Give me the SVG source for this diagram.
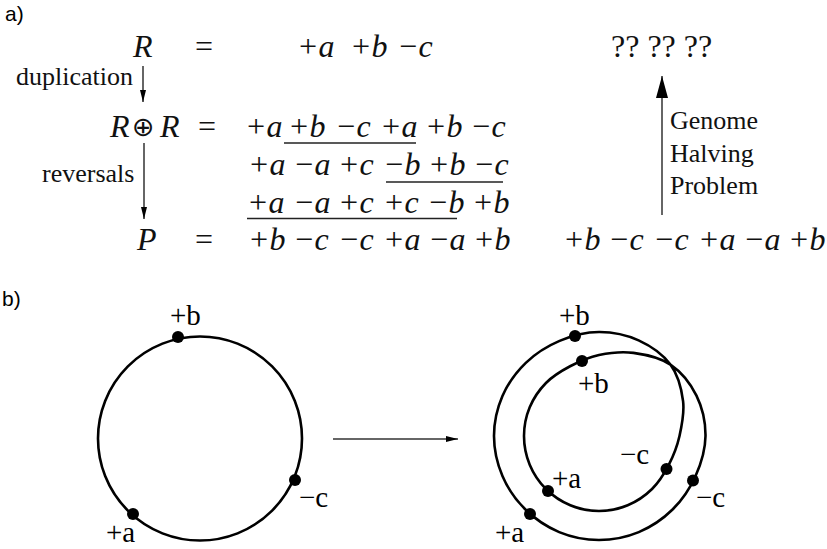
<svg xmlns="http://www.w3.org/2000/svg" width="827" height="549" viewBox="0 0 827 549">
<style>
.m{font-family:"Liberation Serif","Times New Roman",serif;font-size:32px;font-style:italic;fill:#111}
.u{font-family:"Liberation Serif","Times New Roman",serif;font-size:32px;fill:#111}
.l{font-family:"Liberation Serif","Times New Roman",serif;font-size:26px;fill:#111}
.c{font-family:"Liberation Serif","Times New Roman",serif;font-size:29px;fill:#000}
.s{font-family:"Liberation Sans",Arial,sans-serif;font-size:21px;fill:#000}
.ar{stroke:#333;stroke-width:1.5;fill:none}
.ul{stroke:#222;stroke-width:1.4}
.ring{stroke:#000;stroke-width:2.6;fill:none}
.dot{fill:#000}
</style>
<defs>
<marker id="hs" viewBox="0 0 12 6" refX="12" refY="3" markerWidth="12" markerHeight="6" markerUnits="userSpaceOnUse" orient="auto"><path d="M0,0 L12,3 L0,6 Z" fill="#000"/></marker>
<marker id="hb" viewBox="0 0 22 12" refX="22" refY="6" markerWidth="22" markerHeight="12" markerUnits="userSpaceOnUse" orient="auto"><path d="M0,0 L22,6 L0,12 Z" fill="#000"/></marker>
</defs>

<g id="labels-panels">
<text class="s" x="5" y="21">a)</text>
<text class="s" x="2" y="306">b)</text>
</g>

<g id="row-R">
<text class="m" x="133" y="57">R</text>
<text class="u" x="195" y="57">=</text>
<text class="m" x="297" y="57">+a</text>
<text class="m" x="350" y="57">+b</text>
<text class="m" x="397" y="57">−c</text>
</g>

<g id="row-RR">
<text class="m" x="110" y="137">R</text>
<text x="132" y="136" style="font-family:'DejaVu Sans',sans-serif;font-size:27px;fill:#111">⊕</text>
<text class="m" x="160" y="137">R</text>
<text class="u" x="198" y="137">=</text>
<text class="m" x="245" y="137">+a</text>
<text class="m" x="288" y="137">+b</text>
<text class="m" x="335" y="137">−c</text>
<text class="m" x="380" y="137">+a</text>
<text class="m" x="425" y="137">+b</text>
<text class="m" x="470" y="137">−c</text>
</g>

<g id="row-2">
<text class="m" x="248" y="175">+a</text>
<text class="m" x="293" y="175">−a</text>
<text class="m" x="338" y="175">+c</text>
<text class="m" x="383" y="175">−b</text>
<text class="m" x="428" y="175">+b</text>
<text class="m" x="473" y="175">−c</text>
</g>

<g id="row-3">
<text class="m" x="247" y="213">+a</text>
<text class="m" x="293" y="213">−a</text>
<text class="m" x="338" y="213">+c</text>
<text class="m" x="383" y="213">+c</text>
<text class="m" x="427" y="213">−b</text>
<text class="m" x="472" y="213">+b</text>
</g>

<g id="row-P">
<text class="m" x="137" y="250">P</text>
<text class="u" x="195" y="250">=</text>
<text class="m" x="248" y="250">+b</text>
<text class="m" x="293" y="250">−c</text>
<text class="m" x="338" y="250">−c</text>
<text class="m" x="383" y="250">+a</text>
<text class="m" x="428" y="250">−a</text>
<text class="m" x="473" y="250">+b</text>
</g>

<g id="row-Pright">
<text class="m" x="563" y="250">+b</text>
<text class="m" x="608" y="250">−c</text>
<text class="m" x="653" y="250">−c</text>
<text class="m" x="698" y="250">+a</text>
<text class="m" x="743" y="250">−a</text>
<text class="m" x="788" y="250">+b</text>
</g>

<g id="unknown">
<text class="u" x="611" y="57">?? ?? ??</text>
</g>

<g id="underlines">
<line class="ul" x1="284" y1="143" x2="416" y2="143"/>
<line class="ul" x1="386" y1="182" x2="503" y2="182"/>
<line class="ul" x1="247" y1="218.5" x2="457" y2="218.5"/>
</g>

<g id="arrow-labels">
<text class="l" x="16" y="85">duplication</text>
<text class="l" x="42" y="182">reversals</text>
<text class="l" x="670" y="129">Genome</text>
<text class="l" x="670" y="161.5">Halving</text>
<text class="l" x="670" y="194">Problem</text>
</g>

<g id="connectors">
<line class="ar" x1="143" y1="66" x2="143" y2="102" marker-end="url(#hs)"/>
<line class="ar" x1="144" y1="143" x2="144" y2="219" marker-end="url(#hs)"/>
<line class="ar" x1="662" y1="215" x2="662" y2="76" marker-end="url(#hb)"/>
<line class="ar" x1="333" y1="439" x2="458" y2="439" marker-end="url(#hs)"/>
</g>

<g id="genome-R">
<circle class="ring" cx="200" cy="438.5" r="102"/>
<circle class="dot" cx="178" cy="337" r="6"/>
<circle class="dot" cx="295" cy="480" r="6"/>
<circle class="dot" cx="133" cy="514" r="6"/>
<text class="c" x="170" y="325">+b</text>
<text class="c" x="299" y="507">−c</text>
<text class="c" x="106" y="542">+a</text>
</g>

<g id="genome-RR">
<path class="ring" d="M670.42,364.58 C677.83,374.71 681.56,389.27 683.07,401.17 C684.58,413.07 681.89,425.38 679.5,436 C677.11,446.62 673.33,456.05 668.75,464.89 C664.17,473.73 658.87,482.3 652.03,489.03 C645.19,495.76 636.54,501.63 627.7,505.29 C618.86,508.95 608.57,511 599,511 C589.43,511 579.14,508.95 570.3,505.29 C561.46,501.63 552.74,495.8 545.97,489.03 C539.2,482.26 533.37,473.54 529.71,464.7 C526.05,455.86 524,445.57 524,436 C524,426.43 526.05,416.14 529.71,407.3 C533.37,398.46 539.24,389.81 545.97,382.97 C552.7,376.13 561.27,370.91 570.11,366.25 C578.95,361.59 588.44,357.23 599,355 C609.56,352.77 621.54,351.25 633.44,352.85 C645.34,354.45 659.91,357.45 670.42,364.58 C680.93,371.71 690.62,383.73 696.47,395.63 C702.32,407.53 705.65,422.61 705.5,436 C705.35,449.39 701.04,463.73 695.55,475.99 C690.06,488.25 682,500.19 672.54,509.54 C663.08,518.89 651.06,527.01 638.8,532.09 C626.54,537.17 612.27,540 599,540 C585.73,540 571.46,537.17 559.2,532.09 C546.94,527.01 534.92,518.89 525.46,509.54 C516,500.19 507.69,488.25 502.45,475.99 C497.21,463.73 494,449.33 494,436 C494,422.67 497.15,408.21 502.45,396.01 C507.75,383.81 516.29,372.01 525.81,362.81 C535.33,353.61 547.38,345.98 559.58,340.84 C571.78,335.7 585.83,332.08 599,332 C612.17,331.92 626.71,334.95 638.61,340.38 C650.51,345.81 663.01,354.45 670.42,364.58 Z"/>
<circle class="dot" cx="575" cy="336" r="6"/>
<circle class="dot" cx="582" cy="361" r="6"/>
<circle class="dot" cx="666.5" cy="469" r="6"/>
<circle class="dot" cx="693" cy="480.5" r="6"/>
<circle class="dot" cx="548" cy="491" r="6"/>
<circle class="dot" cx="530" cy="514" r="6"/>
<text class="c" x="559" y="325">+b</text>
<text class="c" x="578" y="393">+b</text>
<text class="c" x="620" y="464">−c</text>
<text class="c" x="696" y="507">−c</text>
<text class="c" x="552" y="488">+a</text>
<text class="c" x="495" y="542">+a</text>
</g>
</svg>
